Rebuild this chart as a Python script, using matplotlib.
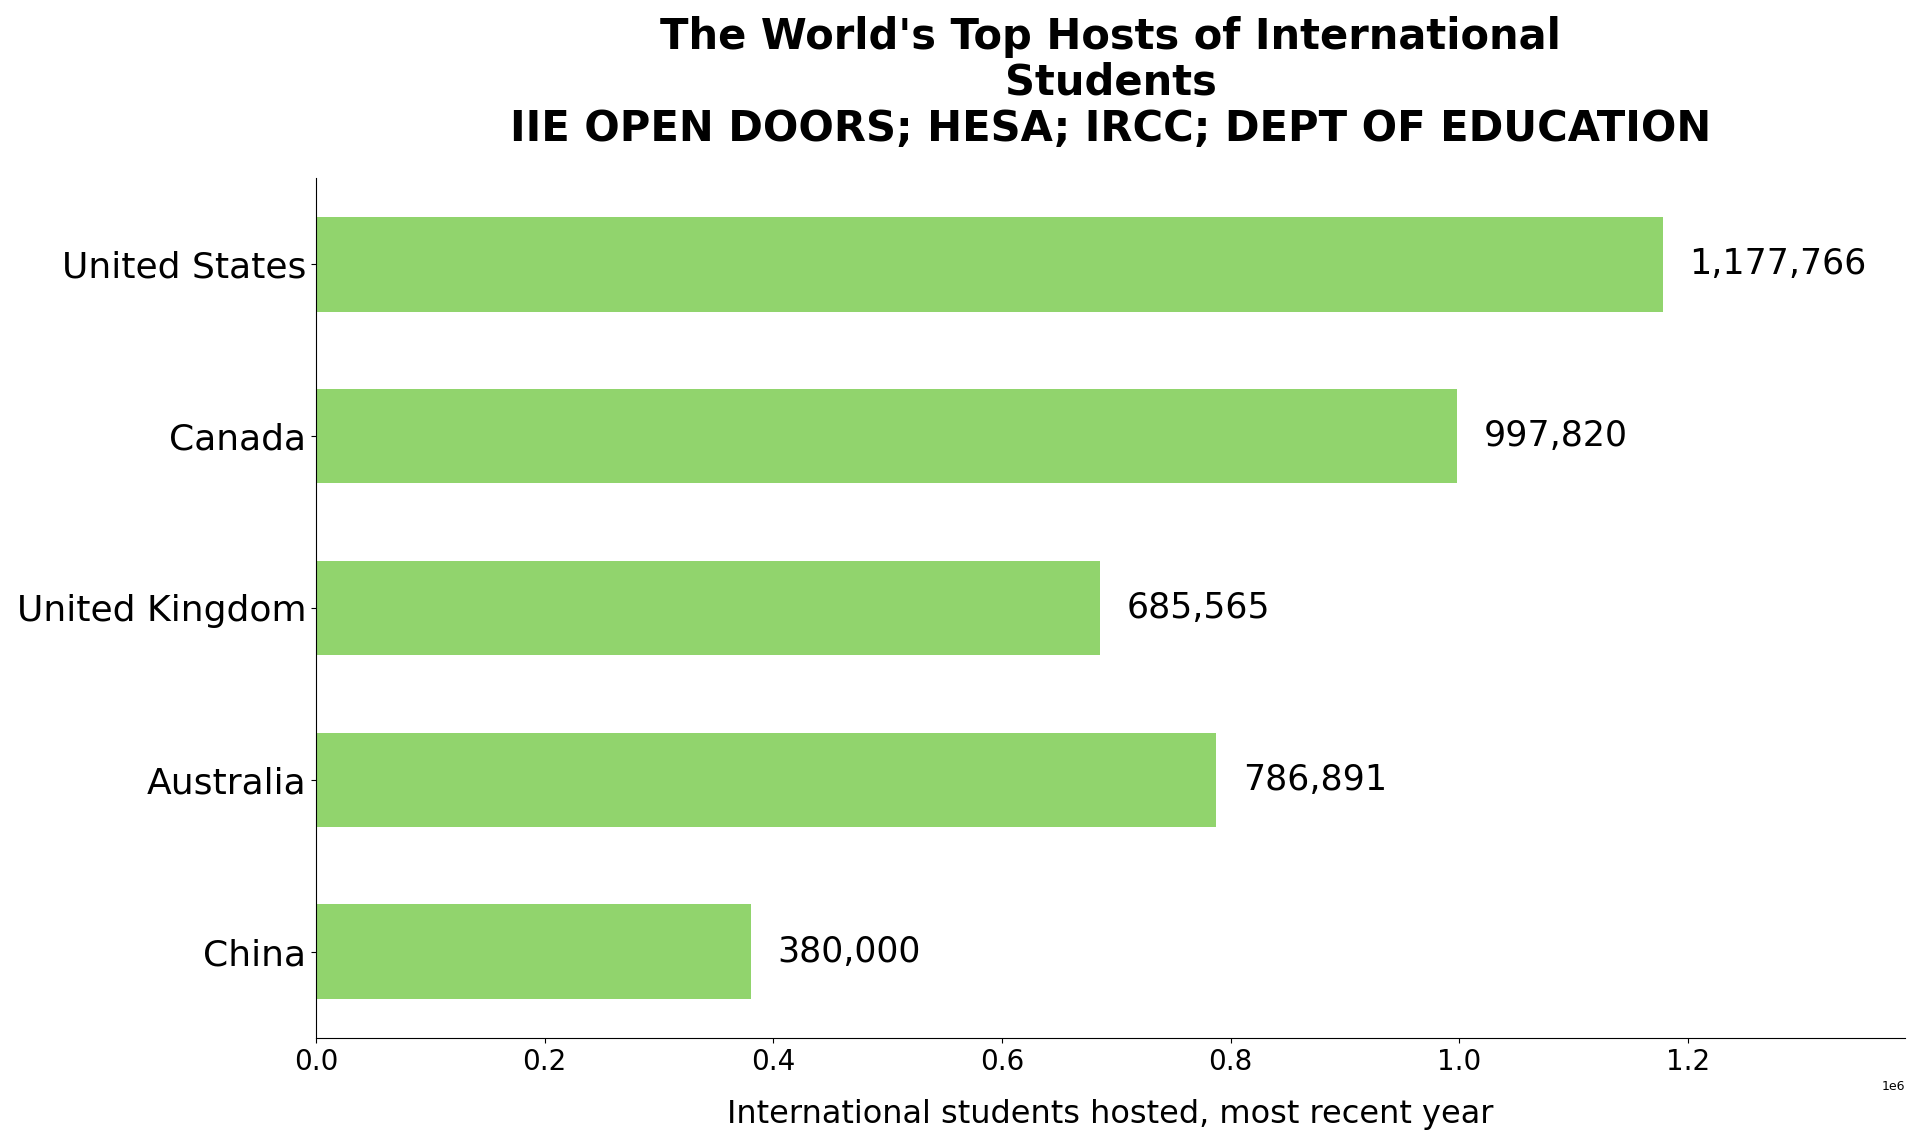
import matplotlib
matplotlib.use("Agg")
import matplotlib.pyplot as plt

countries = ["United States", "Canada", "United Kingdom", "Australia", "China"]
students = [1177766, 997820, 685565, 786891, 380000]

title = ("The World's Top Hosts of International\nStudents\n"
         "IIE OPEN DOORS; HESA; IRCC; DEPT OF EDUCATION")
xlabel = "International students hosted, most recent year"
bar_color = "#91d46d"

fig = plt.figure(figsize=(19.2, 11.44), dpi=100)
ax = fig.add_axes([0.1646, 0.0927, 0.8276, 0.7517])

ax.barh(countries, students, height=0.55, color=bar_color)
ax.invert_yaxis()
ax.set_xlim(0, max(students) * 1.18)

# value labels just past the bar ends
for i, v in enumerate(students):
    ax.text(v + max(students) * 0.02, i, f"{v:,}", va="center", ha="left", fontsize=25)

ax.set_title(title, fontsize=30, fontweight="bold", pad=27, linespacing=1.12)
ax.set_xlabel(xlabel, fontsize=23, labelpad=17)
ax.tick_params(axis="y", labelsize=26)
ax.tick_params(axis="x", labelsize=20)
ax.xaxis.get_offset_text().set_fontsize(9)
ax.spines["top"].set_visible(False)
ax.spines["right"].set_visible(False)

fig.savefig("out.png", dpi=100, transparent=True)
